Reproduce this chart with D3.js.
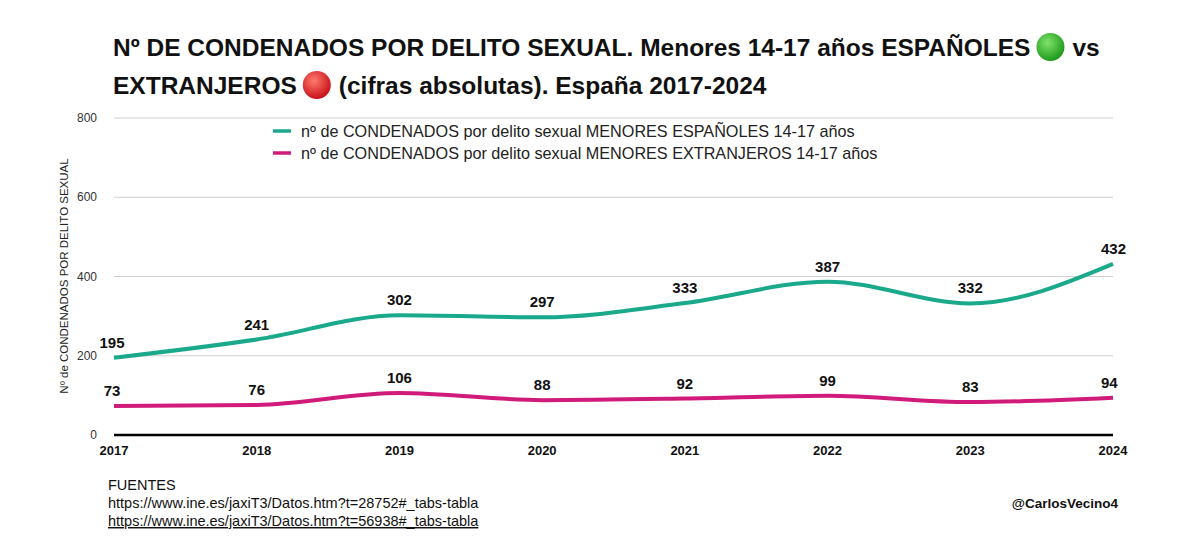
<!DOCTYPE html>
<html><head><meta charset="utf-8">
<script src="https://cdn.jsdelivr.net/npm/d3@7"></script>
<style>body{margin:0;background:#fff}text{font-family:"Liberation Sans",Arial,sans-serif}</style>
</head><body><svg id="c" width="1200" height="552"></svg>
<script>
"use strict";
const years = [2017, 2018, 2019, 2020, 2021, 2022, 2023, 2024];
const espanoles = [195, 241, 302, 297, 333, 387, 332, 432];
const extranjeros = [73, 76, 106, 88, 92, 99, 83, 94];
const yTicks = [0, 200, 400, 600, 800];
const seriesNames = [
  "nº de CONDENADOS por delito sexual MENORES ESPAÑOLES 14-17 años",
  "nº de CONDENADOS por delito sexual MENORES EXTRANJEROS 14-17 años"
];
const colors = ["#1ba98b", "#d11b7b"];

const svg = d3.select("#c");
const x = d3.scalePoint().domain(years).range([114, 1113]);
const y = d3.scaleLinear().domain([0, 800]).range([435, 118]);

const defs = svg.append("defs");
[["gg", "#7fe36a", "#1f9a1c"], ["gr", "#ff7a6e", "#c8121a"]].forEach(([id, a, b]) => {
  const g = defs.append("radialGradient").attr("id", id).attr("cx", "40%").attr("cy", "35%").attr("r", "65%");
  g.append("stop").attr("offset", "0%").attr("stop-color", a);
  g.append("stop").attr("offset", "100%").attr("stop-color", b);
});

// Title: text, emoji-like circle, text
const title = svg.append("g").attr("font-weight", "bold").attr("font-size", 24.5).attr("fill", "#111");
function titleLine(parts, ty) {
  let cx = 113;
  parts.forEach(p => {
    if (p.dot) {
      svg.append("circle").attr("cx", cx + 20).attr("cy", ty - 9).attr("r", 14).attr("fill", `url(#${p.dot})`);
      cx += 42;
    } else {
      const t = title.append("text").attr("x", cx).attr("y", ty).text(p.t);
      cx += t.node().getComputedTextLength();
    }
  });
}
titleLine([{t: "Nº DE CONDENADOS POR DELITO SEXUAL. Menores 14-17 años ESPAÑOLES"}, {dot: "gg"}, {t: "vs"}], 56);
titleLine([{t: "EXTRANJEROS"}, {dot: "gr"}, {t: "(cifras absolutas). España 2017-2024"}], 94);

// Grid
svg.append("g").selectAll("line").data(yTicks.slice(1)).join("line")
  .attr("x1", 114).attr("x2", 1113).attr("y1", d => y(d)).attr("y2", d => y(d))
  .attr("stroke", "#cfcfcf").attr("stroke-width", 1);
svg.append("line").attr("x1", 114).attr("x2", 1113).attr("y1", y(0)).attr("y2", y(0))
  .attr("stroke", "#000").attr("stroke-width", 2.5);

svg.append("g").selectAll("text").data(yTicks).join("text")
  .attr("x", 97).attr("y", d => y(d) + 4).attr("text-anchor", "end")
  .attr("font-size", 12).attr("fill", "#333").text(d => d);

svg.append("text").attr("transform", "translate(68,276) rotate(-90)").attr("text-anchor", "middle")
  .attr("font-size", 11.5).attr("fill", "#222").text("Nº de CONDENADOS POR DELITO SEXUAL");

svg.append("g").selectAll("text").data(years).join("text")
  .attr("x", d => x(d)).attr("y", 455).attr("text-anchor", "middle")
  .attr("font-size", 13).attr("font-weight", "bold").attr("fill", "#111").text(d => d);

// Lines
const line = d3.line().x((d, i) => x(years[i])).y(d => y(d)).curve(d3.curveMonotoneX);
[espanoles, extranjeros].forEach((s, k) => {
  svg.append("path").attr("d", line(s)).attr("fill", "none")
    .attr("stroke", colors[k]).attr("stroke-width", 4);
  svg.append("g").selectAll("text").data(s).join("text")
    .attr("x", (d, i) => x(years[i]))
    .attr("y", d => y(d) - 10).attr("text-anchor", (d, i) => i === 7 ? "start" : "middle")
    .attr("dx", (d, i) => i === 0 ? -2 : i === 7 ? -12 : 0)
    .attr("font-size", 15).attr("font-weight", "bold").attr("fill", "#111").text(d => d);
});

// Legend
seriesNames.forEach((n, k) => {
  const ly = 131 + k * 22;
  svg.append("line").attr("x1", 273).attr("x2", 291).attr("y1", ly).attr("y2", ly)
    .attr("stroke", colors[k]).attr("stroke-width", 3.5);
  svg.append("text").attr("x", 301).attr("y", ly + 5.5).attr("font-size", 16.2).attr("fill", "#222").text(n);
});

// Footer
const f = svg.append("g").attr("font-size", 14.5).attr("fill", "#111");
f.append("text").attr("x", 108).attr("y", 490).text("FUENTES");
f.append("text").attr("x", 108).attr("y", 508).text("https://www.ine.es/jaxiT3/Datos.htm?t=28752#_tabs-tabla");
f.append("text").attr("x", 108).attr("y", 526).attr("text-decoration", "underline")
  .text("https://www.ine.es/jaxiT3/Datos.htm?t=56938#_tabs-tabla");
f.append("text").attr("x", 1118).attr("y", 508).attr("text-anchor", "end").attr("font-weight", "bold")
  .attr("font-size", 13.5).text("@CarlosVecino4");
</script></body></html>
